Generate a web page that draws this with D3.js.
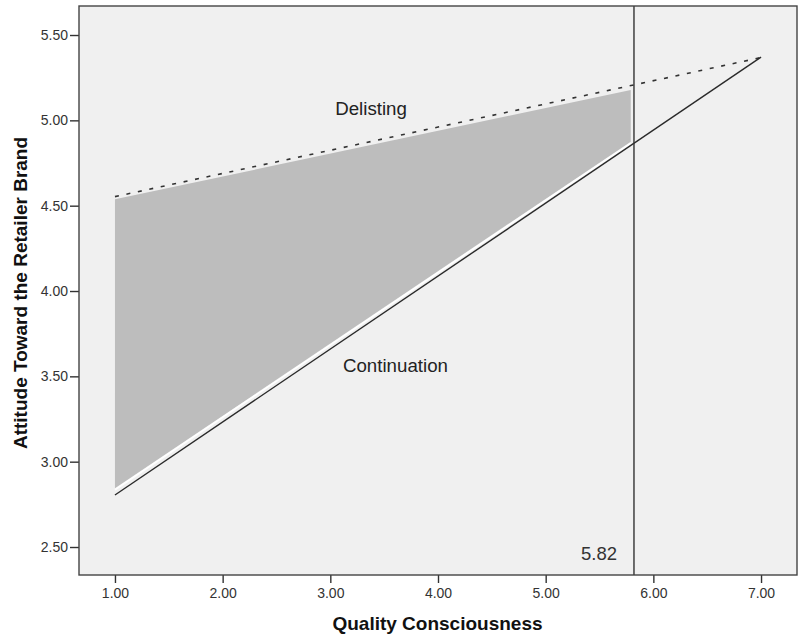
<!DOCTYPE html>
<html>
<head>
<meta charset="utf-8">
<script src="https://cdn.jsdelivr.net/npm/d3@7"></script>
<style>
  body { margin: 0; background: #fff; }
  text { font-family: "Liberation Sans", Arial, sans-serif; }
  .tick text { font-size: 14px; fill: #333; }
  .tick line { stroke: #333; }
</style>
</head>
<body>
<div id="chart"></div>
<script>
/******* JOHNSON-NEYMAN PLOT *******/
var lineX = [1, 7];
var continuation = [2.805, 5.37];
var delisting = [4.553, 5.368];

// shaded region of significance
var regionX = [1, 5.79];
var regionTop = [4.537, 5.178];
var regionBottom = [2.845, 4.875];

var jnPoint = 5.82;
var jnLabel = "5.82";

var xTicks = [1, 2, 3, 4, 5, 6, 7];
var yTicks = [2.5, 3, 3.5, 4, 4.5, 5, 5.5];

var width = 804,
    height = 638;

var margin = {left: 79, top: 6, right: 7, bottom: 63};
var plotW = width - margin.left - margin.right;
var plotH = height - margin.top - margin.bottom;

var svg = d3.select("#chart")
    .append("svg")
    .attr("width", width)
    .attr("height", height);

var g = svg.append("g").attr("transform", "translate(" + margin.left + "," + margin.top + ")");

var x = d3.scaleLinear()
    .domain([0.666, 7.334])
    .range([0, plotW]);

var y = d3.scaleLinear()
    .domain([2.336, 5.67])
    .range([plotH, 0]);

// background
g.append("rect")
    .attr("width", plotW)
    .attr("height", plotH)
    .attr("fill", "#f0f0f0");

// ---- DRAW SHADED REGION ---- //
var region = regionX.map(function(d, i) {
  return {x: d, top: regionTop[i], bottom: regionBottom[i]};
});

var area = d3.area()
    .x(function(d) { return x(d.x); })
    .y0(function(d) { return y(d.bottom); })
    .y1(function(d) { return y(d.top); });

g.append("path")
    .datum(region)
    .attr("d", area)
    .attr("fill", "#bdbdbd");

g.append("path")
    .datum(region)
    .attr("d", d3.line()
        .x(function(d) { return x(d.x); })
        .y(function(d) { return y(d.bottom) + 1.5; }))
    .attr("fill", "none")
    .attr("stroke", "#fff")
    .attr("stroke-width", 1.8);

// ---- DRAW LINES ---- //
var line = d3.line()
    .x(function(d) { return x(d[0]); })
    .y(function(d) { return y(d[1]); });

g.append("path")
    .datum(d3.zip(lineX, delisting))
    .attr("d", line)
    .attr("fill", "none")
    .attr("stroke", "#333")
    .attr("stroke-width", 1.6)
    .attr("stroke-dasharray", "4,7.7");

g.append("path")
    .datum(d3.zip(lineX, continuation))
    .attr("d", line)
    .attr("fill", "none")
    .attr("stroke", "#2a2a2a")
    .attr("stroke-width", 1.4);

// vertical line at J-N point
g.append("line")
    .attr("x1", x(jnPoint))
    .attr("x2", x(jnPoint))
    .attr("y1", 0)
    .attr("y2", plotH)
    .attr("stroke", "#333")
    .attr("stroke-width", 1.4);

// ---- DRAW TEXT LABELS ---- //
g.append("text")
    .attr("x", x(3.378))
    .attr("y", y(5.0) - 5)
    .attr("text-anchor", "middle")
    .style("font-size", "18.7px")
    .attr("fill", "#222")
    .text("Delisting");

g.append("text")
    .attr("x", x(3.605))
    .attr("y", y(3.5) - 4)
    .attr("text-anchor", "middle")
    .style("font-size", "18.7px")
    .attr("fill", "#222")
    .text("Continuation");

g.append("text")
    .attr("x", x(jnPoint) - 17)
    .attr("y", plotH - 15)
    .attr("text-anchor", "end")
    .style("font-size", "18.5px")
    .attr("fill", "#333")
    .text(jnLabel);

// ---- DRAW AXIS ---- //
var xAxis = d3.axisBottom(x)
    .tickValues(xTicks)
    .tickFormat(d3.format(".2f"))
    .tickSizeInner(8)
    .tickSizeOuter(0)
    .tickPadding(5);

var yAxis = d3.axisLeft(y)
    .tickValues(yTicks)
    .tickFormat(d3.format(".2f"))
    .tickSizeInner(9)
    .tickSizeOuter(0)
    .tickPadding(2);

var xAxisGroup = g.append("g")
    .attr("class", "x-axis")
    .attr("transform", "translate(0," + plotH + ")")
    .call(xAxis);

var yAxisGroup = g.append("g")
    .attr("class", "y-axis")
    .call(yAxis);

xAxisGroup.select(".domain").remove();
yAxisGroup.select(".domain").remove();
xAxisGroup.selectAll(".tick line").attr("stroke-width", 1.4);
yAxisGroup.selectAll(".tick line").attr("stroke-width", 1.4);

// frame
g.append("rect")
    .attr("width", plotW)
    .attr("height", plotH)
    .attr("fill", "none")
    .attr("stroke", "#444")
    .attr("stroke-width", 1.4);

// axis titles
svg.append("text")
    .attr("x", 437.5)
    .attr("y", 630)
    .attr("text-anchor", "middle")
    .style("font-size", "19px")
    .style("font-weight", "bold")
    .attr("fill", "#111")
    .text("Quality Consciousness");

svg.append("text")
    .attr("transform", "translate(27,293) rotate(-90)")
    .attr("text-anchor", "middle")
    .style("font-size", "19px")
    .style("font-weight", "bold")
    .attr("fill", "#111")
    .text("Attitude Toward the Retailer Brand");
</script>
</body>
</html>
